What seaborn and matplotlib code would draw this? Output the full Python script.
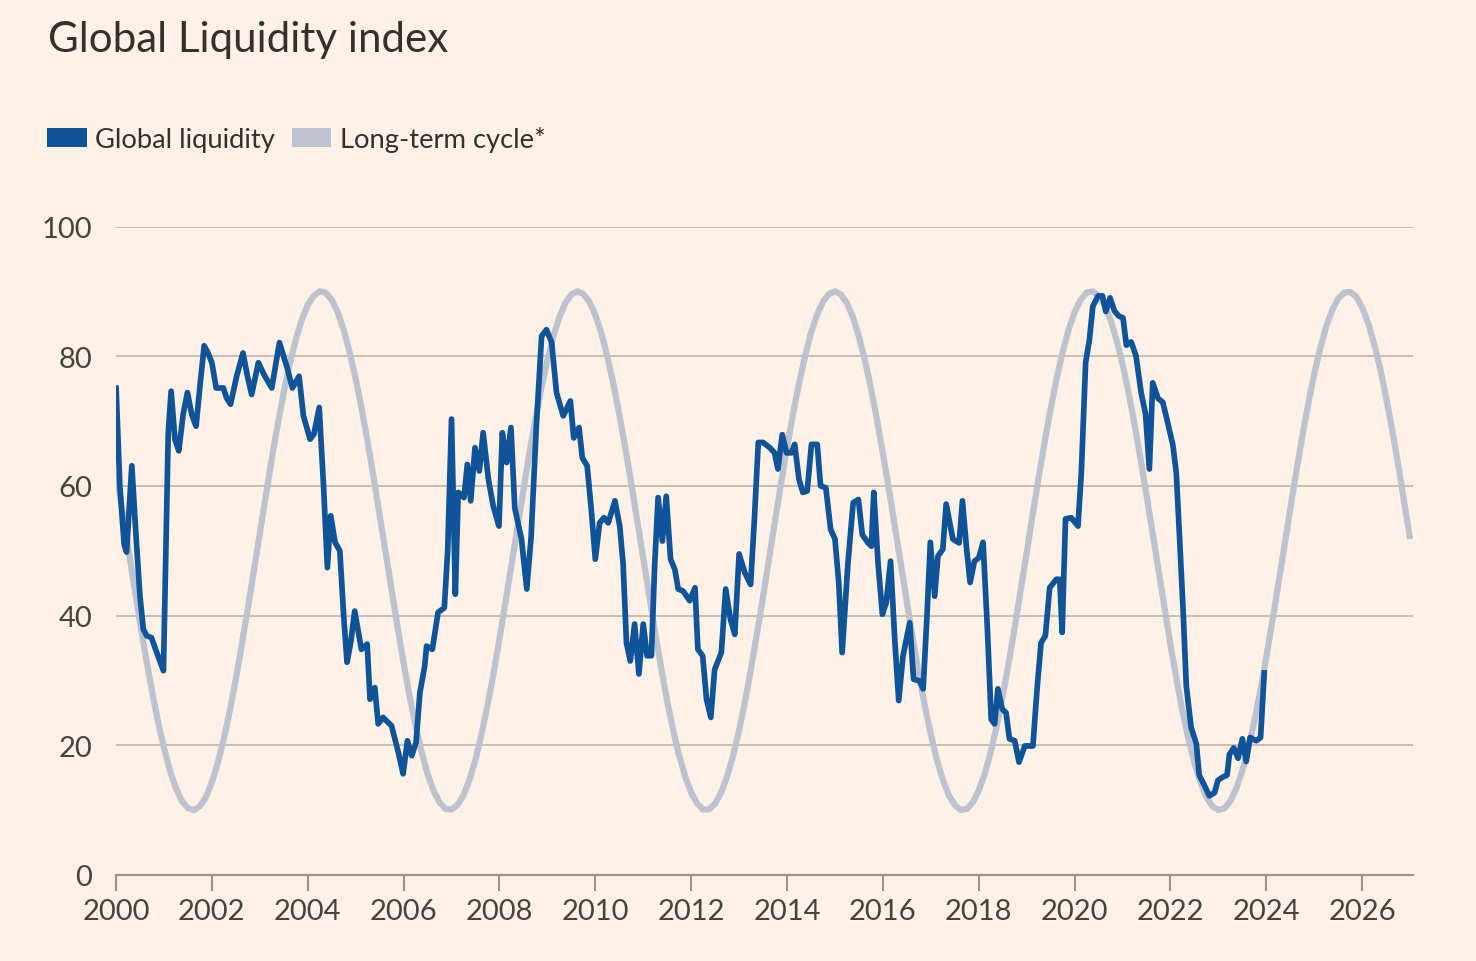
import numpy as np
import pandas as pd
import matplotlib
matplotlib.use("Agg")
import matplotlib.pyplot as plt
from matplotlib.patches import Patch
import seaborn as sns

# ---------------- data ----------------
liquidity_years = [
    2000.00, 2000.08, 2000.17, 2000.22, 2000.33, 2000.42, 2000.50, 2000.57, 2000.64, 2000.74,
    2000.85, 2000.99, 2001.09, 2001.15, 2001.23, 2001.31, 2001.40, 2001.49, 2001.58, 2001.67,
    2001.76, 2001.84, 2001.92, 2002.00, 2002.09, 2002.24, 2002.31, 2002.39, 2002.52, 2002.65,
    2002.74, 2002.83, 2002.97, 2003.10, 2003.25, 2003.41, 2003.56, 2003.68, 2003.82, 2003.91,
    2004.05, 2004.13, 2004.24, 2004.33, 2004.41, 2004.48, 2004.57, 2004.67, 2004.75, 2004.82,
    2004.90, 2004.98, 2005.12, 2005.24, 2005.30, 2005.40, 2005.47, 2005.57, 2005.75, 2005.89,
    2005.99, 2006.08, 2006.17, 2006.26, 2006.34, 2006.44, 2006.48, 2006.60, 2006.72, 2006.85,
    2006.92, 2007.00, 2007.08, 2007.14, 2007.26, 2007.33, 2007.40, 2007.49, 2007.58, 2007.66,
    2007.77, 2007.87, 2007.99, 2008.06, 2008.15, 2008.24, 2008.32, 2008.46, 2008.57, 2008.66,
    2008.77, 2008.88, 2008.98, 2009.09, 2009.19, 2009.33, 2009.48, 2009.55, 2009.66, 2009.73,
    2009.83, 2009.92, 2010.00, 2010.09, 2010.18, 2010.27, 2010.41, 2010.51, 2010.58, 2010.65,
    2010.73, 2010.82, 2010.91, 2011.00, 2011.08, 2011.17, 2011.24, 2011.31, 2011.40, 2011.48,
    2011.57, 2011.66, 2011.73, 2011.83, 2011.97, 2012.08, 2012.14, 2012.24, 2012.32, 2012.41,
    2012.49, 2012.63, 2012.72, 2012.82, 2012.91, 2013.00, 2013.12, 2013.24, 2013.32, 2013.40,
    2013.50, 2013.64, 2013.74, 2013.81, 2013.90, 2013.99, 2014.09, 2014.16, 2014.25, 2014.33,
    2014.42, 2014.51, 2014.63, 2014.70, 2014.81, 2014.91, 2015.00, 2015.08, 2015.15, 2015.27,
    2015.38, 2015.49, 2015.57, 2015.69, 2015.76, 2015.81, 2015.90, 2015.99, 2016.07, 2016.16,
    2016.25, 2016.33, 2016.42, 2016.56, 2016.64, 2016.77, 2016.84, 2016.92, 2016.99, 2017.08,
    2017.15, 2017.25, 2017.32, 2017.46, 2017.59, 2017.66, 2017.75, 2017.82, 2017.91, 2018.00,
    2018.09, 2018.18, 2018.26, 2018.33, 2018.40, 2018.49, 2018.57, 2018.64, 2018.75, 2018.84,
    2018.96, 2019.05, 2019.13, 2019.22, 2019.30, 2019.39, 2019.48, 2019.62, 2019.69, 2019.74,
    2019.81, 2019.93, 2020.07, 2020.14, 2020.23, 2020.31, 2020.38, 2020.49, 2020.58, 2020.65,
    2020.74, 2020.83, 2020.92, 2021.01, 2021.08, 2021.18, 2021.28, 2021.39, 2021.48, 2021.56,
    2021.63, 2021.74, 2021.84, 2021.95, 2022.05, 2022.12, 2022.19, 2022.26, 2022.33, 2022.43,
    2022.54, 2022.60, 2022.71, 2022.81, 2022.92, 2022.99, 2023.09, 2023.18, 2023.23, 2023.32,
    2023.41, 2023.50, 2023.58, 2023.66, 2023.79, 2023.88, 2023.96,
]
liquidity_values = [
    75.5, 60.0, 51.0, 49.8, 63.1, 52.0, 43.0, 37.9, 36.9, 36.6,
    34.3, 31.5, 68.2, 74.6, 67.2, 65.4, 71.0, 74.4, 71.0, 69.2,
    76.0, 81.6, 80.5, 79.0, 75.1, 75.1, 73.5, 72.6, 77.0, 80.5,
    77.0, 74.1, 79.0, 77.0, 75.1, 82.1, 78.5, 75.1, 76.9, 70.8,
    67.2, 68.0, 72.1, 60.0, 47.4, 55.4, 51.3, 50.0, 40.0, 32.8,
    36.0, 40.7, 34.8, 35.6, 27.1, 28.9, 23.3, 24.3, 23.0, 18.9,
    15.6, 20.7, 18.4, 20.4, 28.1, 32.2, 35.3, 34.8, 40.5, 41.2,
    50.0, 70.3, 43.3, 59.0, 58.2, 63.3, 57.7, 65.9, 62.3, 68.2,
    61.0, 56.9, 53.8, 68.2, 63.6, 69.0, 56.6, 51.8, 44.1, 52.0,
    69.2, 83.1, 84.1, 82.1, 74.4, 70.8, 73.1, 67.4, 69.0, 64.3,
    63.1, 56.0, 48.7, 54.3, 55.1, 54.3, 57.7, 53.8, 48.0, 35.8,
    33.0, 38.7, 31.0, 38.7, 33.8, 33.8, 48.0, 58.2, 51.5, 58.4,
    48.7, 47.1, 44.1, 43.8, 42.3, 44.3, 34.8, 33.8, 27.1, 24.3,
    31.7, 34.3, 44.1, 39.4, 37.1, 49.5, 46.6, 44.8, 55.0, 66.7,
    66.7, 65.9, 65.1, 62.6, 67.9, 65.1, 65.1, 66.4, 61.0, 59.0,
    59.2, 66.4, 66.4, 60.0, 59.7, 53.3, 51.8, 45.0, 34.3, 48.0,
    57.4, 57.9, 52.5, 51.2, 50.7, 59.0, 48.0, 40.2, 42.0, 48.4,
    36.0, 26.9, 33.8, 38.9, 30.2, 29.9, 28.7, 40.0, 51.3, 43.0,
    49.2, 50.2, 57.2, 51.8, 51.2, 57.7, 50.0, 45.1, 48.4, 48.9,
    51.3, 38.0, 24.0, 23.3, 28.7, 25.6, 25.0, 21.0, 20.7, 17.4,
    19.9, 19.9, 19.9, 29.0, 35.8, 36.9, 44.3, 45.6, 45.6, 37.4,
    54.9, 55.1, 53.8, 62.0, 79.0, 82.6, 87.7, 89.3, 89.3, 86.9,
    89.0, 87.0, 86.2, 85.9, 81.7, 82.2, 80.1, 74.3, 71.1, 62.6,
    75.9, 73.5, 72.9, 69.5, 66.3, 62.1, 52.0, 41.4, 29.2, 22.8,
    20.2, 15.4, 13.8, 12.2, 12.7, 14.6, 15.1, 15.4, 18.6, 19.6,
    18.0, 21.0, 17.5, 21.2, 20.7, 21.2, 31.6,
]

# long-term cycle, read at each quarter (2000.00 ... 2027.00)
cycle_years_q = [2000 + 0.25 * i for i in range(109)]
cycle_values_q = [
    62.2, 50.6, 39.0, 28.4, 19.6, 13.4, 10.3, 10.6, 14.3, 21.0,
    30.2, 41.1, 52.8, 64.2, 74.4, 82.5, 87.9, 90.0, 88.7, 84.1,
    76.5, 66.8, 55.5, 43.9, 32.7, 23.0, 15.6, 11.2, 10.1, 12.3,
    17.8, 26.1, 36.4, 47.8, 59.5, 70.3, 79.4, 86.0, 89.5, 89.6,
    86.4, 80.0, 71.1, 60.4, 48.8, 37.3, 26.8, 18.4, 12.7, 10.1,
    11.0, 15.2, 22.3, 31.9, 42.9, 54.6, 65.9, 75.8, 83.6, 88.4,
    90.0, 88.2, 83.0, 75.1, 65.0, 53.7, 42.0, 31.0, 21.7, 14.7,
    10.8, 10.2, 13.0, 19.0, 27.6, 38.2, 49.7, 61.3, 71.9, 80.6,
    86.8, 89.8, 89.3, 85.6, 78.8, 69.5, 58.6, 46.9, 35.5, 25.3,
    17.3, 12.0, 10.0, 11.4, 16.1, 23.7, 33.6, 44.8, 56.5, 67.6,
    77.3, 84.6, 88.9, 89.9, 87.5, 81.9, 73.6, 63.3, 51.8,
]
# long-term cycle, read midway between quarters (2000.125 ... 2026.875)
cycle_years_m = [2000.125 + 0.25 * i for i in range(108)]
cycle_values_m = [
    56.5, 44.8, 33.5, 23.7, 16.1, 11.4, 10.0, 12.0, 17.3, 25.3,
    35.5, 46.9, 58.6, 69.5, 78.8, 85.6, 89.3, 89.8, 86.8, 80.6,
    71.9, 61.3, 49.7, 38.2, 27.6, 19.0, 13.0, 10.2, 10.8, 14.7,
    21.7, 31.0, 42.0, 53.7, 65.1, 75.1, 83.1, 88.2, 90.0, 88.4,
    83.6, 75.8, 65.9, 54.6, 42.9, 31.9, 22.3, 15.2, 11.0, 10.1,
    12.7, 18.4, 26.8, 37.3, 48.8, 60.4, 71.1, 80.0, 86.4, 89.6,
    89.5, 86.0, 79.4, 70.3, 59.5, 47.8, 36.4, 26.1, 17.8, 12.3,
    10.0, 11.2, 15.6, 23.0, 32.7, 43.9, 55.6, 66.8, 76.6, 84.1,
    88.7, 90.0, 87.9, 82.5, 74.4, 64.2, 52.8, 41.1, 30.2, 21.0,
    14.3, 10.6, 10.3, 13.4, 19.6, 28.4, 39.1, 50.6, 62.2, 72.7,
    81.2, 87.1, 89.8, 89.2, 85.1, 78.1, 68.7, 57.6,
]

x_ticks = list(range(2000, 2027, 2))
y_ticks = [0, 20, 40, 60, 80, 100]

title_text = "Global Liquidity index"
series_names = ["Global liquidity", "Long-term cycle*"]

# ---------------- style ----------------
BG = "#fff1e5"
BLUE = "#0f5499"
GREY = "#bcc3cf"
GRID = "#c9bdb2"
AXIS = "#9a918a"
TEXT = "#46423f"

sns.set_theme(style="white")
plt.rcParams["font.family"] = ["Lato", "DejaVu Sans"]

liq = pd.DataFrame({"year": liquidity_years, "value": liquidity_values})
cyc = pd.concat([
    pd.DataFrame({"year": cycle_years_q, "value": cycle_values_q}),
    pd.DataFrame({"year": cycle_years_m, "value": cycle_values_m}),
]).sort_values("year").reset_index(drop=True)

fig = plt.figure(figsize=(14.76, 9.62), dpi=100, facecolor=BG)
ax = fig.add_axes([116 / 1476, 1 - 876 / 962, (1413 - 116) / 1476, (876 - 227.5) / 962])
ax.set_facecolor(BG)

sns.lineplot(data=cyc, x="year", y="value", ax=ax, color=GREY, linewidth=4.5,
             legend=False, sort=False, solid_joinstyle="round", solid_capstyle="butt", zorder=3)
sns.lineplot(data=liq, x="year", y="value", ax=ax, color=BLUE, linewidth=4.1,
             legend=False, sort=False, solid_joinstyle="round", solid_capstyle="butt", zorder=4)

ax.set_xlim(2000, 2027.06)
ax.set_ylim(0, 100)
ax.set_xticks(x_ticks)
ax.set_xticklabels([str(t) for t in x_ticks])
ax.set_yticks(y_ticks)
ax.set_yticklabels([str(t) for t in y_ticks])
ax.set_xlabel("")
ax.set_ylabel("")

for v in y_ticks[1:]:
    ax.axhline(v, color=GRID, linewidth=1.4, zorder=1)

for s in ["top", "right", "left"]:
    ax.spines[s].set_visible(False)
ax.spines["bottom"].set_color(AXIS)
ax.spines["bottom"].set_linewidth(1.6)
ax.spines["bottom"].set_zorder(5)

ax.tick_params(axis="x", which="major", direction="out", length=11.5, width=1.5,
               color=AXIS, labelsize=21, labelcolor=TEXT, pad=5, bottom=True)
ax.tick_params(axis="y", which="major", length=0, labelsize=21, labelcolor=TEXT, pad=17)
ax.grid(False)

fig.text(48 / 1476, 1 - 52 / 962, title_text, fontsize=30.3, color="#33302e",
         ha="left", va="baseline")

handles = [Patch(facecolor=BLUE, edgecolor="none", label=series_names[0]),
           Patch(facecolor=GREY, edgecolor="none", label=series_names[1])]
leg = fig.legend(handles=handles, loc="center left",
                 bbox_to_anchor=(47 / 1476, 1 - 140 / 962), ncol=2, frameon=False,
                 fontsize=19.7, handlelength=1.45, handleheight=0.72,
                 handletextpad=0.3, columnspacing=0.62, borderpad=0, borderaxespad=0)
for t in leg.get_texts():
    t.set_color("#33302e")

fig.savefig("out.png", dpi=100, facecolor=BG)
